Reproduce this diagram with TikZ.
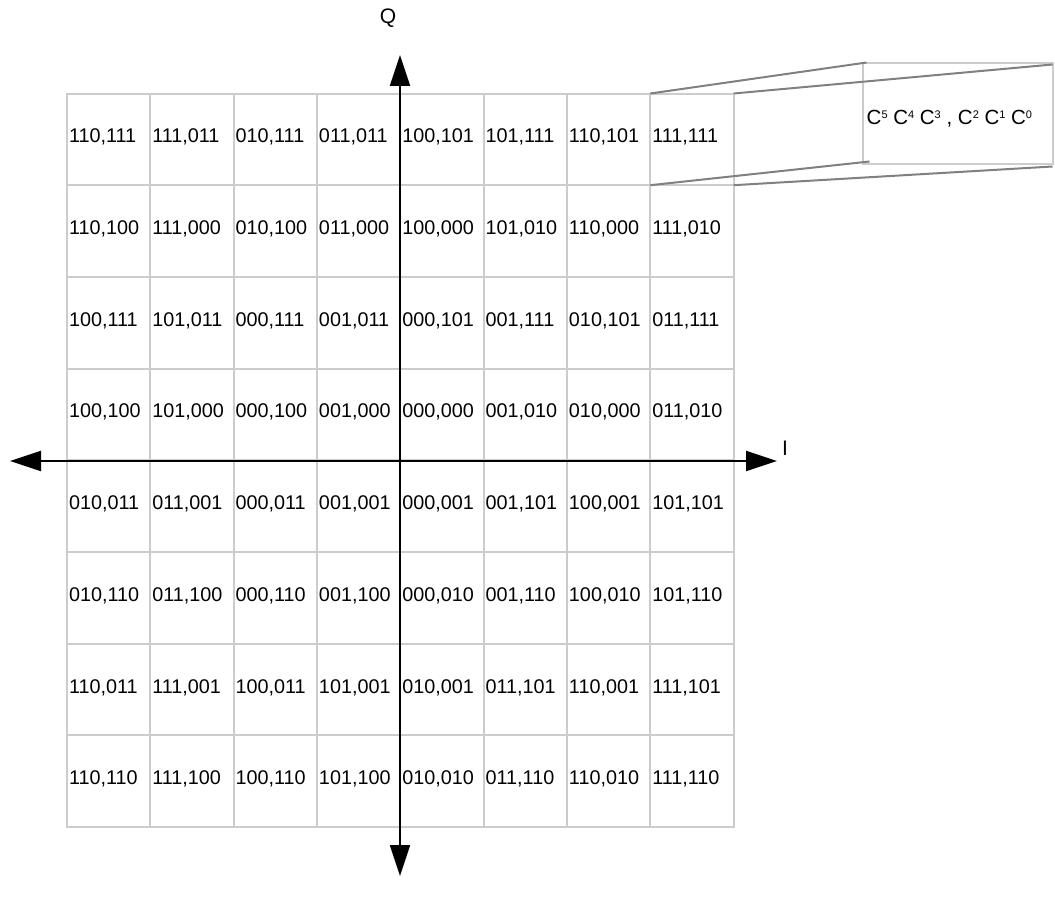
\documentclass[tikz,border=0pt]{standalone}
\usepackage{fontspec}
\setmainfont{Liberation Sans}
\usetikzlibrary{arrows.meta}
\definecolor{gridgray}{HTML}{CCCCCC}
\definecolor{linkgray}{HTML}{808080}
\newcommand\qamrow[9]{%
  \node[cellbox] (c#1-1) at ({67+83.33*0.5}, {93.5+91.7*(#1-0.5)}) {#2};
  \node[cellbox] (c#1-2) at ({67+83.33*1.5}, {93.5+91.7*(#1-0.5)}) {#3};
  \node[cellbox] (c#1-3) at ({67+83.33*2.5}, {93.5+91.7*(#1-0.5)}) {#4};
  \node[cellbox] (c#1-4) at ({67+83.33*3.5}, {93.5+91.7*(#1-0.5)}) {#5};
  \node[cellbox] (c#1-5) at ({67+83.33*4.5}, {93.5+91.7*(#1-0.5)}) {#6};
  \node[cellbox] (c#1-6) at ({67+83.33*5.5}, {93.5+91.7*(#1-0.5)}) {#7};
  \node[cellbox] (c#1-7) at ({67+83.33*6.5}, {93.5+91.7*(#1-0.5)}) {#8};
  \node[cellbox] (c#1-8) at ({67+83.33*7.5}, {93.5+91.7*(#1-0.5)}) {#9};
}
\newcommand\supd[1]{\raisebox{6.8pt}{\fontsize{11pt}{12pt}\selectfont #1}}
\begin{document}
\begin{tikzpicture}[x=1pt,y=-1pt,
  cellbox/.style={draw=gridgray, line width=2pt, minimum width=83.33pt,
    minimum height=91.7pt, inner xsep=2pt, inner ysep=0pt, text width=79.33pt,
    align=left, font=\fontsize{19.8pt}{22pt}\selectfont, outer sep=0pt,
    text depth=10pt, text height=17pt},
  axisline/.style={line width=2pt, black, {Triangle[length=31pt,width=20pt]}-{Triangle[length=31pt,width=20pt]}},
  axlabel/.style={font=\fontsize{21pt}{24pt}\selectfont, inner sep=0pt},
  zoombox/.style={draw=gridgray, line width=2pt, minimum width=190pt, minimum height=100pt, inner sep=0pt, outer sep=0pt},
  zoomlink/.style={draw=linkgray, line width=2pt},
  ztext/.style={font=\fontsize{20.5pt}{24pt}\selectfont, inner sep=0pt, anchor=west}
]
\useasboundingbox (0,0) rectangle (1055,907);
\qamrow{1}{110,111}{111,011}{010,111}{011,011}{100,101}{101,111}{110,101}{111,111}
\qamrow{2}{110,100}{111,000}{010,100}{011,000}{100,000}{101,010}{110,000}{111,010}
\qamrow{3}{100,111}{101,011}{000,111}{001,011}{000,101}{001,111}{010,101}{011,111}
\qamrow{4}{100,100}{101,000}{000,100}{001,000}{000,000}{001,010}{010,000}{011,010}
\qamrow{5}{010,011}{011,001}{000,011}{001,001}{000,001}{001,101}{100,001}{101,101}
\qamrow{6}{010,110}{011,100}{000,110}{001,100}{000,010}{001,110}{100,010}{101,110}
\qamrow{7}{110,011}{111,001}{100,011}{101,001}{010,001}{011,101}{110,001}{111,101}
\qamrow{8}{110,110}{111,100}{100,110}{101,100}{010,010}{011,110}{110,010}{111,110}

% zoom box
\node[zoombox] (zb) at (957.5,113.5) {};
\node[ztext] (zt) at (866.5,119) {C\supd{5} C\supd{4} C\supd{3} , C\supd{2} C\supd{1} C\supd{0}};
\draw[zoomlink] (c1-8.north west) -- ([xshift=4pt,yshift=1pt]zb.north west);
\draw[zoomlink] (c1-8.north east) -- ([yshift=-1pt]zb.north east);
\draw[zoomlink] (c1-8.south west) -- ([xshift=7pt,yshift=2pt]zb.south west);
\draw[zoomlink] (c1-8.south east) -- ([yshift=-3pt]zb.south east);

% axes
\coordinate (qt) at (400,55);
\coordinate (qb) at (400,876);
\coordinate (il) at (10,461);
\coordinate (ir) at (777,461);
\draw[axisline] (qb) -- (qt);
\draw[axisline] (il) -- (ir);
\node[axlabel] (qlab) at (388,18) {Q};
\node[axlabel] (ilab) at (785,448) {I};
\end{tikzpicture}
\end{document}
